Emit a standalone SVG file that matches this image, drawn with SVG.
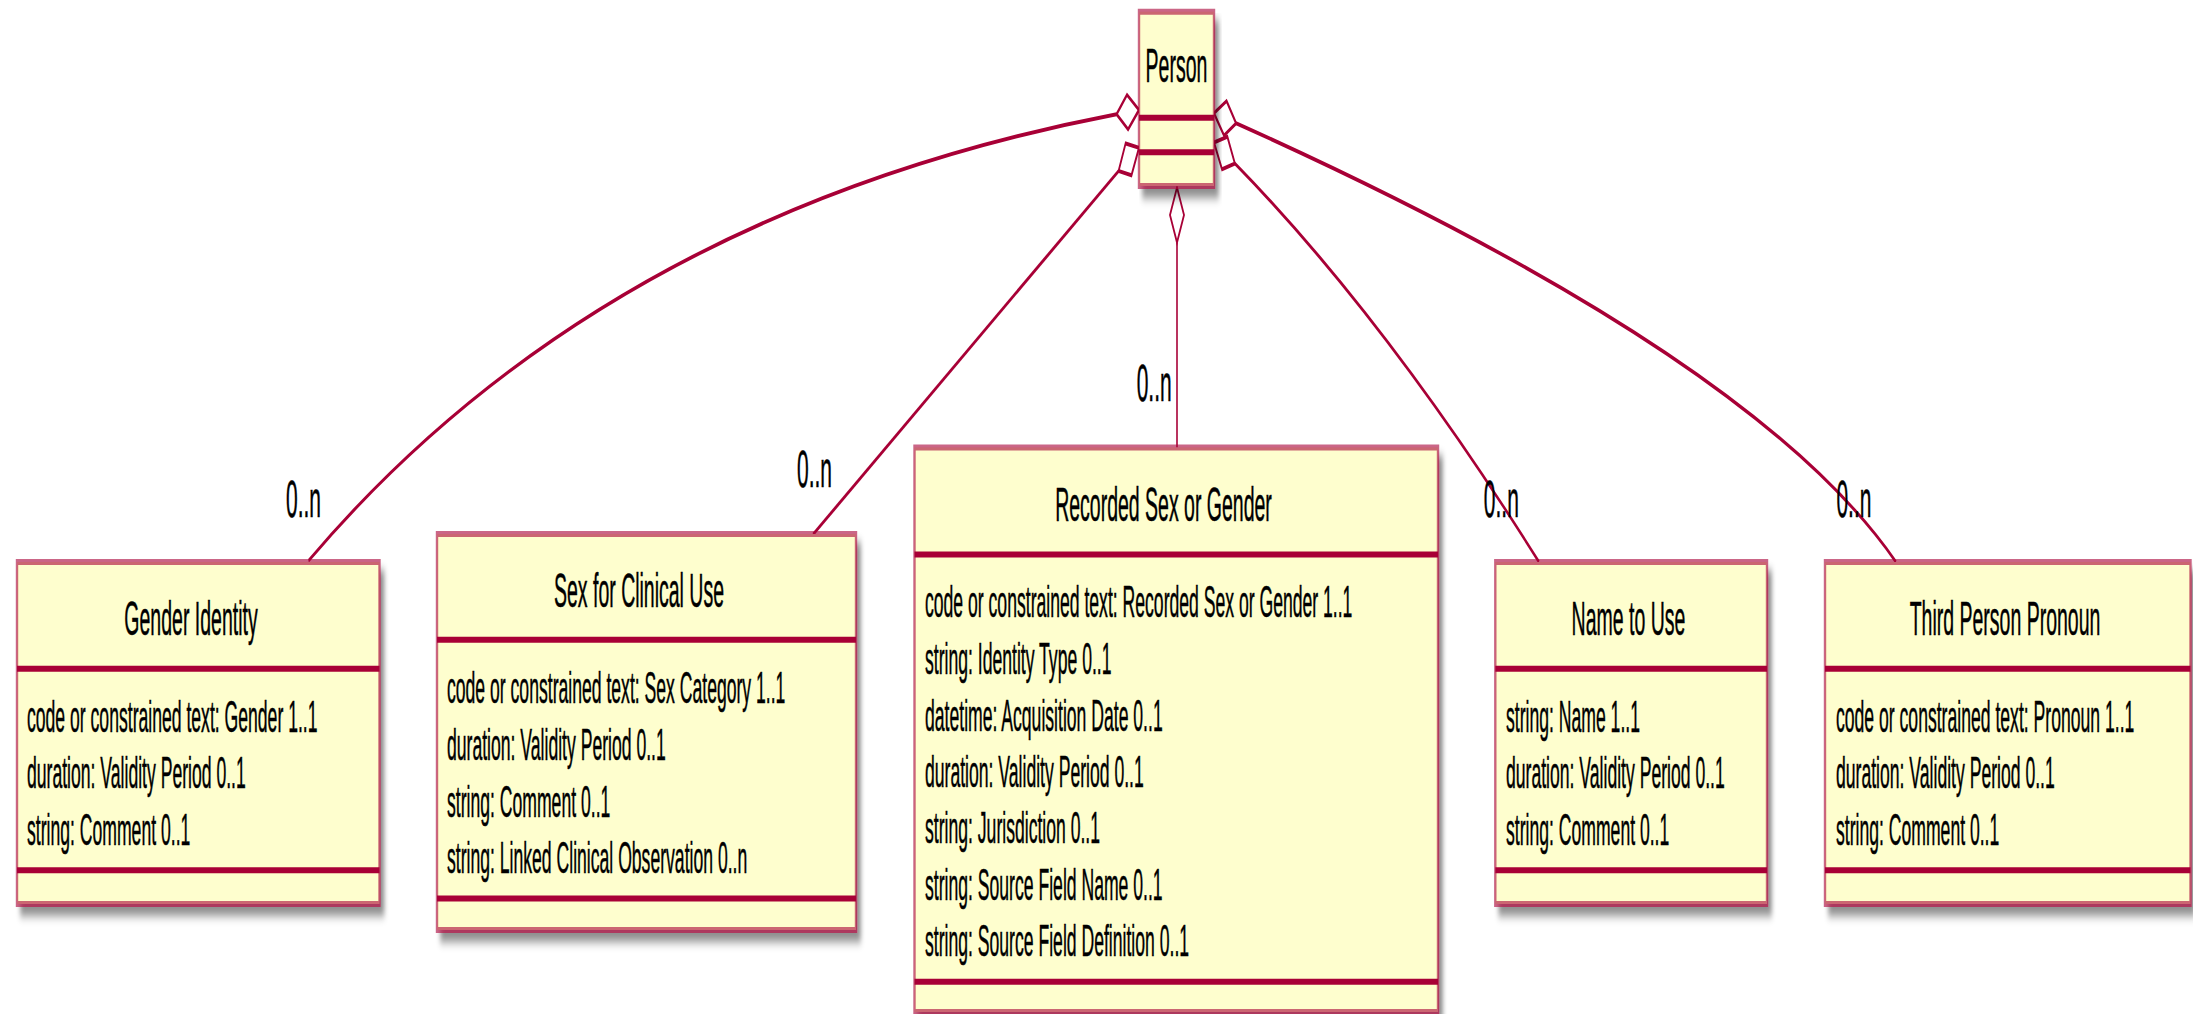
<svg xmlns="http://www.w3.org/2000/svg" width="2193" height="1014" viewBox="0 0 2193 1014">
  <defs>
    <!-- soft drop shadow under each class box -->
    <filter id="shadow" x="-5%" y="-5%" width="115%" height="125%">
      <feGaussianBlur in="SourceAlpha" stdDeviation="2"/>
      <feOffset dx="4" dy="4" result="off"/>
      <feFlood flood-color="#000" flood-opacity="0.45"/>
      <feComposite in2="off" operator="in"/>
      <feMerge>
        <feMergeNode/>
        <feMergeNode in="SourceGraphic"/>
      </feMerge>
    </filter>
  </defs>
  <style>
    .box { fill: #FEFECE; stroke: #A80036; stroke-opacity: 0.6; stroke-width: 2.4; filter: url(#shadow); }
    .sep { stroke: #A80036; stroke-width: 2.4; }
    text { font-family: "Liberation Sans", Arial, sans-serif; fill: #000; stroke: #000; stroke-width: 0.2; }
    .title { font-size: 19.5px; text-anchor: middle; }
    .attr { font-size: 17.6px; }
    .mult { font-size: 21px; }
    .link { fill: none; stroke: #A80036; stroke-width: 1.6; }
    .agg { fill: #FFFFFF; stroke: #A80036; stroke-width: 1.6; stroke-linejoin: miter; }
  </style>
  <rect width="2193" height="1014" fill="#FFFFFF"/>

  <!-- the whole class diagram is drawn in a space stretched 2.5x vertically -->
  <g transform="scale(1,2.5)">

    <g id="connectors">
      <!-- Person aggregates Gender Identity -->
      <path class="link" d="M1116.6,45.7 Q603.3,85.2 308.5,224.3"/>
      <polygon class="agg" points="1139,44 1128.1,51.8 1116.6,45.7 1127,37.9"/>
      <text class="mult" x="286" y="206.8">0..n</text>

      <!-- Person aggregates Sex for Clinical Use -->
      <path class="link" d="M1118.6,68.4 L813,213.8"/>
      <polygon class="agg" points="1139,59.1 1131.5,70.1 1118.6,68.4 1125.6,57.4"/>
      <text class="mult" x="797" y="194.8">0..n</text>

      <!-- Person aggregates Recorded Sex or Gender -->
      <path class="link" d="M1177,97 L1177,179"/>
      <polygon class="agg" points="1177,75 1170,86 1177,97 1184,86"/>
      <text class="mult" x="1136.7" y="160.6">0..n</text>

      <!-- Person aggregates Name to Use -->
      <path class="link" d="M1234.9,65.4 Q1386.8,127.7 1539,224.8"/>
      <polygon class="agg" points="1214,57 1222,67.7 1234.9,65.4 1227.4,54.7"/>
      <text class="mult" x="1483.8" y="206.7">0..n</text>

      <!-- Person aggregates Third Person Pronoun -->
      <path class="link" d="M1236.1,49.3 Q1755,142.6 1896,224.8"/>
      <polygon class="agg" points="1214,45.3 1224,54.2 1236.1,49.3 1226.6,40.4"/>
      <text class="mult" x="1836.4" y="206.7">0..n</text>
    </g>

    <g id="person">
      <rect class="box" x="1139" y="4.7" width="75" height="69.7"/>
      <text class="title" x="1176.5" y="32.8">Person</text>
      <line class="sep" x1="1139" y1="47.1" x2="1214" y2="47.1"/>
      <line class="sep" x1="1139" y1="60.9" x2="1214" y2="60.9"/>
    </g>

    <g id="gender-identity">
      <rect class="box" x="17" y="224.8" width="362.5" height="136.8"/>
      <text class="title" x="191" y="254">Gender Identity</text>
      <line class="sep" x1="17" y1="267.5" x2="379.5" y2="267.5"/>
      <text class="attr" x="27" y="292.8">code or constrained text: Gender 1..1</text>
      <text class="attr" x="27" y="315.2">duration: Validity Period 0..1</text>
      <text class="attr" x="27" y="338">string: Comment 0..1</text>
      <line class="sep" x1="17" y1="348.1" x2="379.5" y2="348.1"/>
    </g>

    <g id="sex-for-clinical-use">
      <rect class="box" x="437" y="213.6" width="419" height="158.4"/>
      <text class="title" x="639" y="242.8">Sex for Clinical Use</text>
      <line class="sep" x1="437" y1="255.9" x2="856" y2="255.9"/>
      <text class="attr" x="447" y="281.2">code or constrained text: Sex Category 1..1</text>
      <text class="attr" x="447" y="304">duration: Validity Period 0..1</text>
      <text class="attr" x="447" y="326.8">string: Comment 0..1</text>
      <text class="attr" x="447" y="349.2">string: Linked Clinical Observation 0..n</text>
      <line class="sep" x1="437" y1="359.4" x2="856" y2="359.4"/>
    </g>

    <g id="recorded-sex-or-gender">
      <rect class="box" x="914.5" y="179" width="523.5" height="225.8"/>
      <text class="title" x="1163.5" y="208.4">Recorded Sex or Gender</text>
      <line class="sep" x1="914.5" y1="221.8" x2="1438" y2="221.8"/>
      <text class="attr" x="925" y="247">code or constrained text: Recorded Sex or Gender 1..1</text>
      <text class="attr" x="925" y="269.8">string: Identity Type 0..1</text>
      <text class="attr" x="925" y="292.4">datetime: Acquisition Date 0..1</text>
      <text class="attr" x="925" y="314.8">duration: Validity Period 0..1</text>
      <text class="attr" x="925" y="337.4">string: Jurisdiction 0..1</text>
      <text class="attr" x="925" y="360">string: Source Field Name 0..1</text>
      <text class="attr" x="925" y="382.4">string: Source Field Definition 0..1</text>
      <line class="sep" x1="914.5" y1="392.7" x2="1438" y2="392.7"/>
    </g>

    <g id="name-to-use">
      <rect class="box" x="1495.3" y="224.8" width="271.7" height="136.8"/>
      <text class="title" x="1628.5" y="254">Name to Use</text>
      <line class="sep" x1="1495.3" y1="267.5" x2="1767" y2="267.5"/>
      <text class="attr" x="1506" y="292.8">string: Name 1..1</text>
      <text class="attr" x="1506" y="315.2">duration: Validity Period 0..1</text>
      <text class="attr" x="1506" y="338">string: Comment 0..1</text>
      <line class="sep" x1="1495.3" y1="348.1" x2="1767" y2="348.1"/>
    </g>

    <g id="third-person-pronoun">
      <rect class="box" x="1825" y="224.8" width="365.5" height="136.8"/>
      <text class="title" x="2005" y="254">Third Person Pronoun</text>
      <line class="sep" x1="1825" y1="267.5" x2="2190.5" y2="267.5"/>
      <text class="attr" x="1836" y="292.8">code or constrained text: Pronoun 1..1</text>
      <text class="attr" x="1836" y="315.2">duration: Validity Period 0..1</text>
      <text class="attr" x="1836" y="338">string: Comment 0..1</text>
      <line class="sep" x1="1825" y1="348.1" x2="2190.5" y2="348.1"/>
    </g>
  </g>
</svg>
